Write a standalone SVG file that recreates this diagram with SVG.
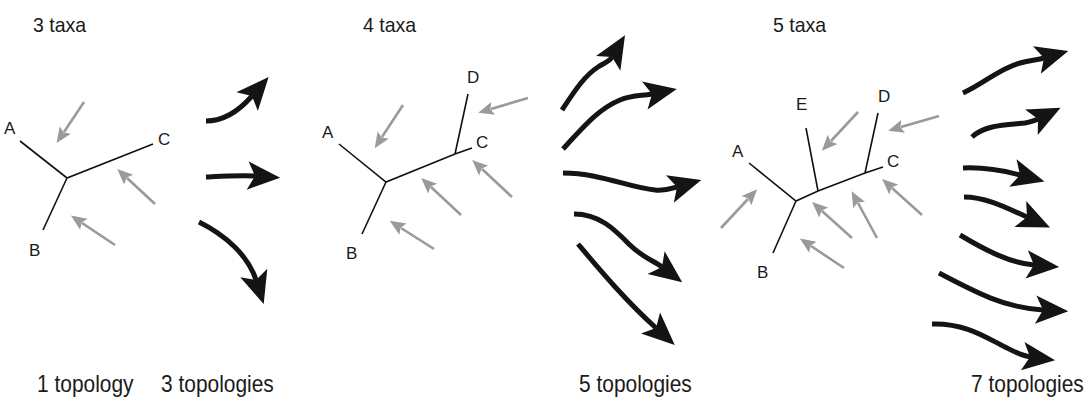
<svg xmlns="http://www.w3.org/2000/svg" width="1088" height="403" viewBox="0 0 1088 403">
  <style>
    .title { font-family: "Liberation Sans", Arial, sans-serif; fill: #1a1a1a; }
    .head { font-size: 21px; }
    .count { font-size: 23px; }
    .leaf { font-family: "Liberation Sans", Arial, sans-serif; font-size: 17px; fill: #1a1a1a; }
    .branch { stroke: #111; stroke-width: 1.6; fill: none; stroke-linecap: butt; }
    .insert { stroke: #9a9a9a; stroke-width: 2.6; fill: none; marker-end: url(#grayHead); }
    .step { stroke: #141414; stroke-width: 5; fill: none; stroke-linecap: butt; marker-end: url(#blackHead); }
  </style>
  <defs>
    <!-- small grey head for the insertion-point arrows -->
    <marker id="grayHead" markerUnits="userSpaceOnUse" markerWidth="20" markerHeight="20"
            viewBox="-2 -8 18 16" refX="2" refY="0" orient="auto" overflow="visible">
      <path d="M0,-6 L14,0 L0,6 L2.5,0 Z" fill="#9a9a9a"/>
    </marker>
    <!-- large barbed head for the step arrows -->
    <marker id="blackHead" markerUnits="userSpaceOnUse" markerWidth="40" markerHeight="40"
            viewBox="-2 -16 38 32" refX="7" refY="0" orient="auto" overflow="visible">
      <path d="M0,-13.5 L31,0 L0,13.5 L7,0 Z" fill="#141414"/>
    </marker>
  </defs>

  <!-- headings (narrowed sans) -->
  <text class="title head" transform="translate(33,32) scale(0.93,1)">3 taxa</text>
  <text class="title head" transform="translate(363,32) scale(0.93,1)">4 taxa</text>
  <text class="title head" transform="translate(773,32) scale(0.93,1)">5 taxa</text>

  <text class="title count" transform="translate(37,392) scale(0.91,1)">1 topology</text>
  <text class="title count" transform="translate(161,392) scale(0.91,1)">3 topologies</text>
  <text class="title count" transform="translate(579,392) scale(0.91,1)">5 topologies</text>
  <text class="title count" transform="translate(971,392) scale(0.91,1)">7 topologies</text>

  <!-- three-taxon tree -->
  <g id="tree3">
    <path class="branch" d="M20,141 L67,178 L153,144 M67,178 L43,230"/>
    <text class="leaf" x="4" y="134">A</text>
    <text class="leaf" x="29" y="256">B</text>
    <text class="leaf" x="158" y="145">C</text>
    <path class="insert" d="M84,102 L64,132"/>
    <path class="insert" d="M155,204 L127,178"/>
    <path class="insert" d="M115,245 L82,223"/>
  </g>

  <!-- four-taxon tree -->
  <g id="tree4">
    <path class="branch" d="M339,144 L386,182 L455,154 L472,148 M455,154 L468,94 M386,182 L362,234"/>
    <text class="leaf" x="322" y="138">A</text>
    <text class="leaf" x="346" y="259">B</text>
    <text class="leaf" x="476" y="148">C</text>
    <text class="leaf" x="467" y="83">D</text>
    <path class="insert" d="M403,105 L382,137"/>
    <path class="insert" d="M528,98 L491,109"/>
    <path class="insert" d="M512,197 L482,169"/>
    <path class="insert" d="M461,215 L431,187"/>
    <path class="insert" d="M434,249 L401,228"/>
  </g>

  <!-- five-taxon tree -->
  <g id="tree5">
    <path class="branch" d="M749,163 L796,201 L818,191 L865,173 L883,167 M865,173 L878,113 M818,191 L806,128 M796,201 L773,253"/>
    <text class="leaf" x="732" y="157">A</text>
    <text class="leaf" x="757" y="278">B</text>
    <text class="leaf" x="887" y="167">C</text>
    <text class="leaf" x="878" y="102">D</text>
    <text class="leaf" x="796" y="110">E</text>
    <path class="insert" d="M721,228 L748,199"/>
    <path class="insert" d="M858,112 L831,141"/>
    <path class="insert" d="M939,116 L901,127"/>
    <path class="insert" d="M922,215 L892,188"/>
    <path class="insert" d="M877,238 L858,203"/>
    <path class="insert" d="M852,238 L822,211"/>
    <path class="insert" d="M844,268 L811,246"/>
  </g>

  <!-- arrows from one tree size to the next -->
  <g id="connectors">
    <path class="step" d="M206,121 C222,121 238,112 252,96"/>
    <path class="step" d="M206,177 C225,176 240,175 255,176"/>
    <path class="step" d="M199,222 C225,235 248,255 256,280"/>

    <path class="step" d="M562,110 C574,92 584,76 598,67 C604,63 609,62 612,57"/>
    <path class="step" d="M563,149 C585,125 600,108 620,100 C632,95 642,96 652,94"/>
    <path class="step" d="M563,173 C600,173 630,188 655,190 C665,191 670,189 677,187"/>
    <path class="step" d="M574,214 C600,214 615,230 630,245 C642,257 654,261 662,267"/>
    <path class="step" d="M578,244 C600,270 625,300 656,328"/>

    <path class="step" d="M963,93 C985,83 1000,68 1020,63 C1030,60 1037,60 1044,58"/>
    <path class="step" d="M972,137 C985,125 1005,125 1025,123 C1030,122 1034,121 1038,119"/>
    <path class="step" d="M963,168 C985,167 1005,171 1020,175"/>
    <path class="step" d="M964,197 C985,197 1005,207 1027,217"/>
    <path class="step" d="M960,235 C985,250 1010,263 1034,265"/>
    <path class="step" d="M939,273 C975,292 1005,308 1043,310"/>
    <path class="step" d="M932,324 C965,323 985,337 1005,347 C1015,352 1022,356 1030,357"/>
  </g>
</svg>
